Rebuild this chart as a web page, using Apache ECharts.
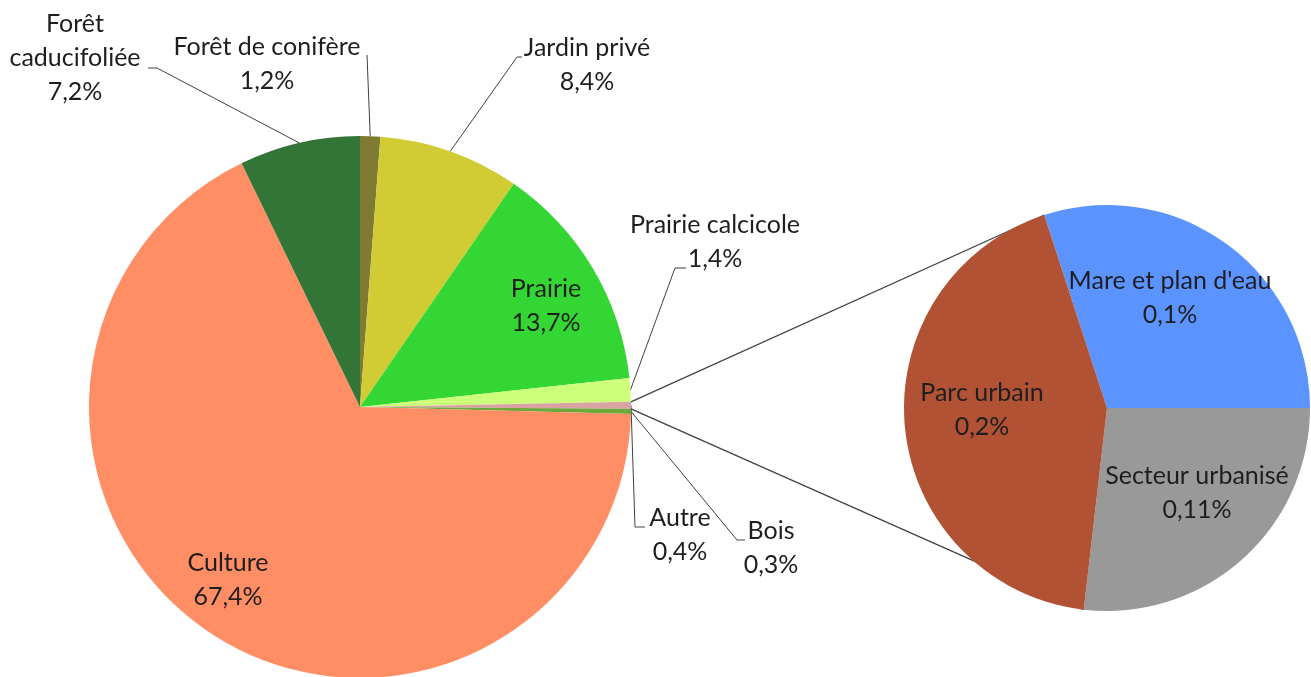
<!DOCTYPE html>
<html><head><meta charset="utf-8">
<script src="https://cdn.jsdelivr.net/npm/echarts@6/dist/echarts.min.js"></script>
<style>html,body{margin:0;padding:0;background:#fff}#c{width:1311px;height:677px}</style>
</head><body><div id="c"></div>
<script>
// ---- data ----
const mainNames = ['Forêt de conifère', 'Jardin privé', 'Prairie', 'Prairie calcicole', 'Autre', 'Bois', 'Culture', 'Forêt caducifoliée'];
const mainValues = [1.2, 8.4, 13.7, 1.4, 0.41, 0.3, 67.4, 7.2];
const mainPctLabels = ['1,2%', '8,4%', '13,7%', '1,4%', '0,4%', '0,3%', '67,4%', '7,2%'];
const subNames = ["Mare et plan d'eau", 'Secteur urbanisé', 'Parc urbain'];
const subValues = [0.123, 0.11, 0.177];
const subPctLabels = ['0,1%', '0,11%', '0,2%'];
const otherIndex = 4; // "Autre" slice split into the secondary pie

// ---- styles / layout ----
const mainColors = ['#7F7B33', '#D1CC33', '#33D633', '#CCFF7A', '#D9A3A3', '#6FA83A', '#FF8E64', '#327536'];
const subColors = ['#5B93FF', '#999999', '#B25235'];
const mainDisplayNames = ['Forêt de conifère', 'Jardin privé', 'Prairie', 'Prairie calcicole', 'Autre', 'Bois', 'Culture', 'Forêt\ncaducifoliée'];
const C1 = [360, 407], R1 = 271;
const C2 = [1107, 408], R2 = 203;
const subStart = 108;
const FONT = 'Lato';
const mainLabelPos = [
  {x: 267, y: 64, line: [[367, 55], [367, 55]]},
  {x: 587, y: 65, line: [[517, 57], [522, 57]]},
  {x: 546, y: 306},
  {x: 715, y: 242, line: [[675, 268], [686, 268]]},
  {x: 680, y: 535, line: [[635, 527], [645, 527]]},
  {x: 771, y: 548, line: [[737, 540], [745, 540]]},
  {x: 228, y: 580},
  {x: 75, y: 58, line: [[157, 68], [148, 68]]}
];
const subLabelPos = [{x: 1170, y: 298}, {x: 1197, y: 493}, {x: 982, y: 410}];

const total1 = mainValues.reduce((a, b) => a + b, 0);
const total2 = subValues.reduce((a, b) => a + b, 0);
function pt(c, r, deg) { const a = deg * Math.PI / 180; return [c[0] + r * Math.sin(a), c[1] - r * Math.cos(a)]; }
const cum = []; let acc = 0;
mainValues.forEach(v => { cum.push(acc); acc += v; });
function midDeg(i) { return (cum[i] + mainValues[i] / 2) / total1 * 360; }

// connector lines
const oA0 = cum[otherIndex] / total1 * 360, oA1 = (cum[otherIndex] + mainValues[otherIndex]) / total1 * 360;
const sTop = 90 - subStart;
const sBot = sTop + (subValues[0] + subValues[1]) / total2 * 360;
const conn = [
  [pt(C1, R1, oA0), pt(C2, R2, sTop)],
  [pt(C1, R1, oA1), pt(C2, R2, sBot)]
];

const chart = echarts.init(document.getElementById('c'), null, {renderer: 'canvas'});
const textStyle = {fontFamily: FONT, fontSize: 25, lineHeight: 34, color: '#1e1e1e'};
chart.setOption({
  animation: false,
  graphic: conn.map(p => ({type: 'polyline', z: 0, shape: {points: p}, style: {stroke: '#404040', lineWidth: 1.2, fill: null}})),
  series: [
    {
      type: 'pie', z: 3, center: C1, radius: R1, startAngle: 90, clockwise: true,
      avoidLabelOverlap: false,
      itemStyle: {borderWidth: 0},
      data: mainNames.map((n, i) => ({
        name: n, value: mainValues[i], itemStyle: {color: mainColors[i]},
        labelLine: {show: !!mainLabelPos[i].line}
      })),
      label: Object.assign({show: true, position: 'outside', formatter: p => mainDisplayNames[p.dataIndex] + '\n' + mainPctLabels[p.dataIndex], align: 'center'}, textStyle),
      labelLine: {show: true, lineStyle: {color: '#404040', width: 1}, length: 10, length2: 10},
      labelLayout: function (p) {
        const L = mainLabelPos[p.dataIndex];
        const o = {x: L.x, y: L.y, align: 'center', verticalAlign: 'middle'};
        if (L.line) o.labelLinePoints = [pt(C1, R1, midDeg(p.dataIndex)), L.line[0], L.line[1]];
        return o;
      }
    },
    {
      type: 'pie', z: 3, center: C2, radius: R2, startAngle: subStart, clockwise: true,
      avoidLabelOverlap: false,
      itemStyle: {borderWidth: 0},
      data: subNames.map((n, i) => ({name: n, value: subValues[i], itemStyle: {color: subColors[i]}})),
      label: Object.assign({show: true, position: 'inside', formatter: p => subNames[p.dataIndex] + '\n' + subPctLabels[p.dataIndex], align: 'center'}, textStyle),
      labelLine: {show: false},
      labelLayout: function (p) {
        const L = subLabelPos[p.dataIndex];
        return {x: L.x, y: L.y, align: 'center', verticalAlign: 'middle'};
      }
    }
  ]
});
</script>
</body></html>
